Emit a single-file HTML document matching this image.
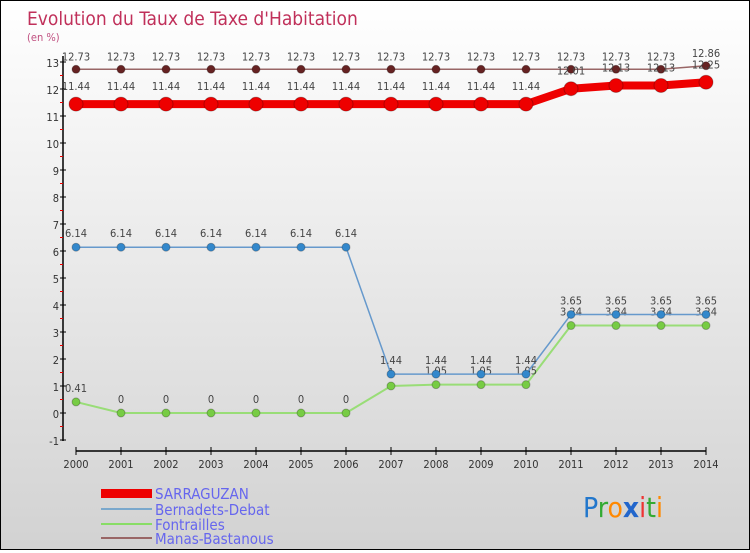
<!DOCTYPE html>
<html><head><meta charset="utf-8"><style>
body{margin:0}
#c{width:748px;height:548px;border:1px solid #000;background:linear-gradient(#ffffff,#d2d2d2);position:relative;font-family:"DejaVu Sans Condensed","Liberation Sans",sans-serif}
text{font-family:"DejaVu Sans Condensed","Liberation Sans",sans-serif}
</style></head><body>
<div id="c">
<svg id="s" width="748" height="548">
<text x="26" y="24" font-size="19" fill="#c0305a">Evolution du Taux de Taxe d'Habitation</text>
<text x="26" y="40" font-size="11" fill="#c05080">(en %)</text>
<g id="g"></g>
<g>
<rect x="100" y="488" width="51" height="9" fill="#e00"/>
<text x="154" y="498" font-size="15" fill="#6666ee">SARRAGUZAN</text>
<line x1="100" y1="508" x2="151" y2="508" stroke="#7aa8cc" stroke-width="2"/>
<text x="154" y="514" font-size="15" fill="#6666ee">Bernadets-Debat</text>
<line x1="100" y1="523" x2="151" y2="523" stroke="#88dd66" stroke-width="2"/>
<text x="154" y="529" font-size="15" fill="#6666ee">Fontrailles</text>
<line x1="100" y1="537" x2="151" y2="537" stroke="#996666" stroke-width="2"/>
<text x="154" y="543" font-size="15" fill="#6666ee">Manas-Bastanous</text>
</g>
<text x="582" y="516" font-size="28"><tspan fill="#2277cc">P</tspan><tspan fill="#33aa33">r</tspan><tspan fill="#ff8800">o</tspan><tspan fill="#2266cc" font-weight="bold">x</tspan><tspan fill="#ee3333">i</tspan><tspan fill="#33aa33">t</tspan><tspan fill="#ff8800">i</tspan></text>
</svg></div>
<script>
const years=[2000,2001,2002,2003,2004,2005,2006,2007,2008,2009,2010,2011,2012,2013,2014];
const sarraguzan=[11.44,11.44,11.44,11.44,11.44,11.44,11.44,11.44,11.44,11.44,11.44,12.01,12.13,12.13,12.25];
const bernadets=[6.14,6.14,6.14,6.14,6.14,6.14,6.14,1.44,1.44,1.44,1.44,3.65,3.65,3.65,3.65];
const fontrailles=[0.41,0,0,0,0,0,0,1.0,1.05,1.05,1.05,3.24,3.24,3.24,3.24];
const manas=[12.73,12.73,12.73,12.73,12.73,12.73,12.73,12.73,12.73,12.73,12.73,12.73,12.73,12.73,12.86];
const yTicks=[-1,0,1,2,3,4,5,6,7,8,9,10,11,12,13];
const NS="http://www.w3.org/2000/svg";
const g=document.getElementById('g');
const X=i=>75+i*45, Y=v=>412-v*27;
function mk(t,a,p){const e=document.createElementNS(NS,t);for(const k in a)e.setAttribute(k,a[k]);(p||g).appendChild(e);return e;}
let ya=mk('line',{x1:62,y1:55,x2:62,y2:440,stroke:'#000','stroke-width':1.5});


yTicks.forEach(v=>{
 mk('line',{x1:59,y1:Y(v),x2:65,y2:Y(v),stroke:'#000'});
 if(v>-1) mk('line',{x1:59,y1:Y(v)+13.5,x2:62,y2:Y(v)+13.5,stroke:'#e00'});
 let t=mk('text',{x:58,y:Y(v)+5,'font-size':11,fill:'#333','text-anchor':'end'});t.textContent=v;
 
 
});
let xa=mk('line',{x1:75,y1:450,x2:705,y2:450,stroke:'#000','stroke-width':1.5});


years.forEach((y,i)=>{
 mk('line',{x1:X(i),y1:446,x2:X(i),y2:454,stroke:'#000'});
 let t=mk('text',{x:X(i),y:467,'font-size':11,fill:'#333','text-anchor':'middle'});t.textContent=y;
 
 
});
function series(name,d,col,w,r,dot,lab){
 const sg=mk('g',{});
 
 
 mk('polyline',{points:d.map((v,i)=>X(i)+','+Y(v)).join(' '),fill:'none',stroke:col,'stroke-width':w,'stroke-linejoin':'round'},sg);
 d.forEach((v,i)=>{
  let c=mk('circle',{cx:X(i),cy:Y(v),r:r,fill:dot,stroke:'rgba(0,0,0,0.25)'},sg);
  
  
  let t=mk('text',{x:X(i),y:Y(v)-lab,'font-size':11,fill:'#444','text-anchor':'middle'},sg);t.textContent=v;
  
  
 });
}
series('manas',manas,'#996666',1.5,4,'#662222',9);
series('fontrailles',fontrailles,'#99dd77',2,4,'#77cc44',10);
series('bernadets',bernadets,'#6699cc',1.5,4,'#3388cc',10);
series('sarraguzan',sarraguzan,'#ee0000',8,7,'#ee0000',14);
</script>
</body></html>
